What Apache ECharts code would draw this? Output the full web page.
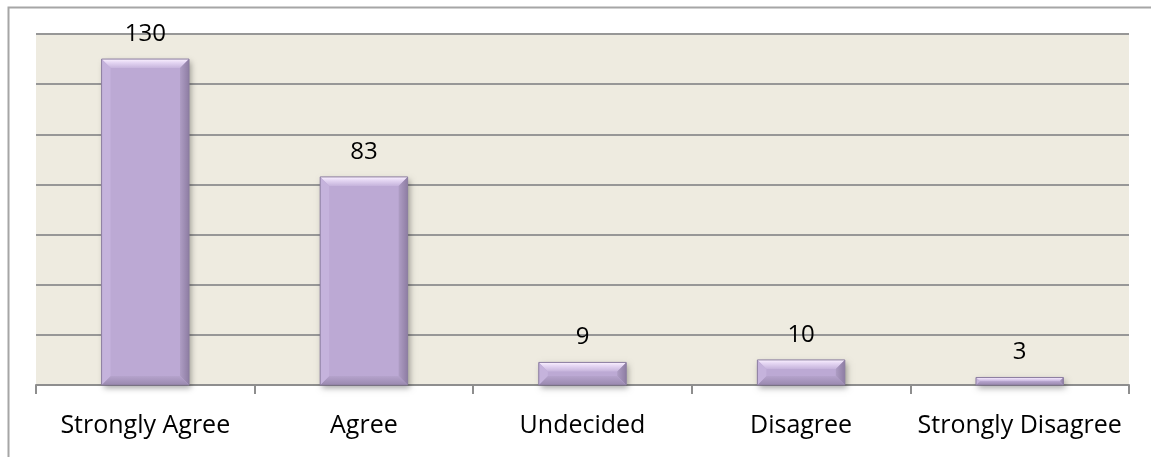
<!DOCTYPE html>
<html>
<head>
<meta charset="utf-8">
<script src="https://cdn.jsdelivr.net/npm/echarts@6/dist/echarts.min.js"></script>
<style>
html,body{margin:0;padding:0;background:#fff;}
#chart{width:1151px;height:457px;}
</style>
</head>
<body>
<div id="chart"></div>
<script>
const categories = ['Strongly Agree', 'Agree', 'Undecided', 'Disagree', 'Strongly Disagree'];
const values = [130, 83, 9, 10, 3];
const yMin = 0, yMax = 140, yInterval = 20;

const FONT = '"Open Sans", "Noto Sans", sans-serif';

function renderItem(params, api) {
  const top = api.coord([api.value(0), api.value(1)]);
  const base = api.coord([api.value(0), 0]);
  const band = api.size([1, 0])[0];
  const w = band * 0.4;
  const x0 = top[0] - w / 2, x1 = top[0] + w / 2;
  const y0 = top[1], y1 = base[1];
  const h = y1 - y0;
  const b = Math.min(9, h / 2, w / 2);
  return {
    type: 'group',
    children: [
      { type: 'rect', shape: { x: x0, y: y0, width: w, height: h },
        style: { fill: '#BCA9D4', shadowBlur: 6, shadowOffsetX: 2, shadowOffsetY: 3, shadowColor: 'rgba(0,0,0,0.35)' } },
      { type: 'polygon', shape: { points: [[x0, y0], [x1, y0], [x1 - b, y0 + b], [x0 + b, y0 + b]] },
        style: { fill: new echarts.graphic.LinearGradient(0, 0, 0, 1, [
          { offset: 0, color: '#FBF2FF' }, { offset: 0.35, color: '#E6D8F4' }, { offset: 1, color: '#C6B4DC' }]) } },
      { type: 'polygon', shape: { points: [[x1, y0], [x1, y1], [x1 - b, y1 - b], [x1 - b, y0 + b]] },
        style: { fill: new echarts.graphic.LinearGradient(1, 0, 0, 0, [
          { offset: 0, color: '#8E7DA3' }, { offset: 1, color: '#AE9DC4' }]) } },
      { type: 'polygon', shape: { points: [[x0, y1], [x1, y1], [x1 - b, y1 - b], [x0 + b, y1 - b]] },
        style: { fill: new echarts.graphic.LinearGradient(0, 1, 0, 0, [
          { offset: 0, color: '#9A89AF' }, { offset: 1, color: '#B5A3CC' }]) } },
      { type: 'polygon', shape: { points: [[x0, y0], [x0 + b, y0 + b], [x0 + b, y1 - b], [x0, y1]] },
        style: { fill: '#C5B3DC' } },
      { type: 'rect', shape: { x: x0, y: y0, width: w, height: h },
        style: { fill: 'none', stroke: '#8C7EA0', lineWidth: 1 } }
    ]
  };
}

const chart = echarts.init(document.getElementById('chart'), null, { renderer: 'canvas' });
chart.setOption({
  animation: false,
  backgroundColor: '#ffffff',
  graphic: [
    { type: 'rect', left: 6, top: 5, shape: { width: 1300, height: 600 }, silent: true,
      style: { fill: 'none', stroke: '#A6A6A6', lineWidth: 2 }, z: -10 }
  ],
  grid: { left: 36, right: 22, top: 34, bottom: 72, show: true, backgroundColor: '#EEEBE0', borderWidth: 0 },
  xAxis: {
    type: 'category',
    data: categories,
    axisLine: { show: true, lineStyle: { color: '#8E8E8E', width: 2 } },
    axisTick: { show: true, interval: 0, length: 9, lineStyle: { color: '#8E8E8E', width: 2 } },
    axisLabel: { interval: 0, color: '#000', fontFamily: FONT, fontSize: 25, margin: 28 }
  },
  yAxis: {
    type: 'value',
    min: yMin, max: yMax, interval: yInterval,
    axisLine: { show: false },
    axisTick: { show: false },
    axisLabel: { show: false },
    splitLine: { show: true, lineStyle: { color: '#979797', width: 2 } }
  },
  series: [
    {
      type: 'custom',
      renderItem: renderItem,
      data: categories.map((c, i) => [i, values[i]]),
      encode: { x: 0, y: 1 },
      z: 3
    },
    {
      type: 'bar',
      data: values,
      barWidth: '40%',
      itemStyle: { color: 'rgba(0,0,0,0)' },
      label: { show: true, position: 'top', distance: 13, color: '#000', fontFamily: FONT, fontSize: 24 },
      z: 4
    }
  ]
});
</script>
</body>
</html>
